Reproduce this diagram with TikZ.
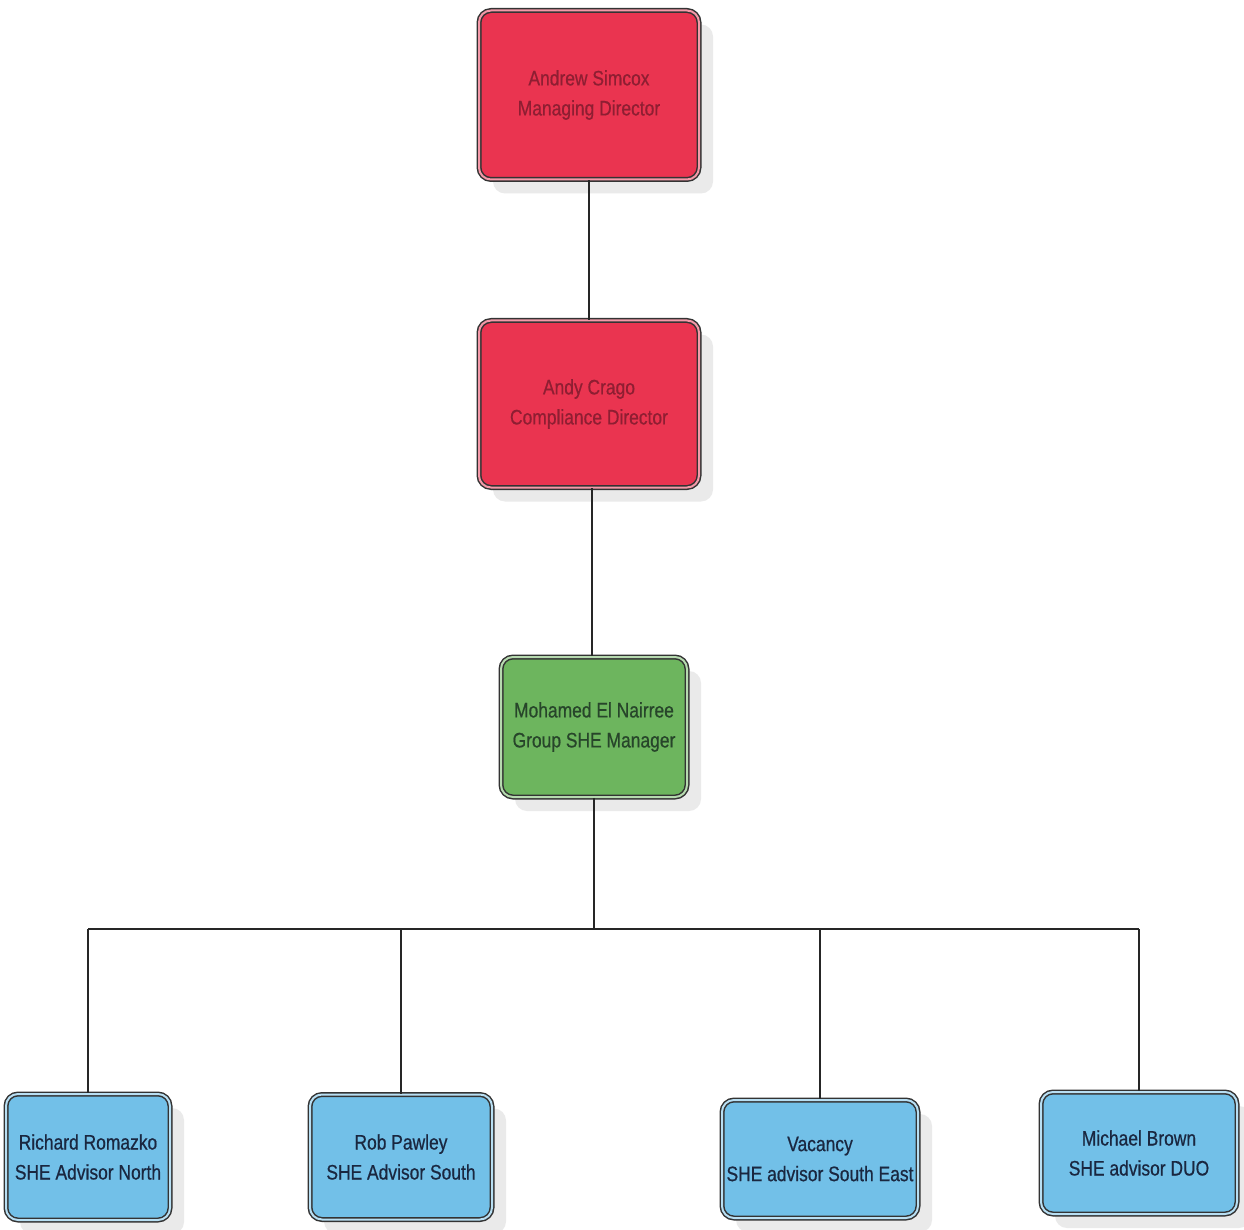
\documentclass[tikz,border=0pt]{standalone}
\usepackage{fontspec}
\setmainfont{Liberation Sans}[FakeStretch=0.83,FakeBold=0.6]
\usetikzlibrary{shadows}
\definecolor{redfill}{HTML}{EA3450}
\definecolor{redtext}{HTML}{8E1E32}
\definecolor{greenfill}{HTML}{6DB55E}
\definecolor{greentext}{HTML}{27452A}
\definecolor{bluefill}{HTML}{72C0E8}
\definecolor{bluetext}{HTML}{1A2740}
\definecolor{edge}{HTML}{333333}
\tikzset{
  box/.style={rounded corners=12pt, draw=edge, line width=1.5pt, double distance=2pt,
    align=center, inner sep=0pt, font=\fontsize{21}{30}\selectfont,
    drop shadow={shadow xshift=14pt, shadow yshift=-14pt, fill=gray!40, opacity=0.4}},
  redbox/.style={box, fill=redfill, double=redfill!50!white, text=redtext},
  greenbox/.style={box, fill=greenfill, double=greenfill!50!white, text=greentext},
  bluebox/.style={box, fill=bluefill, double=bluefill!50!white, text=bluetext},
  link/.style={draw=black!85, line width=2pt}
}
\begin{document}
\begin{tikzpicture}[x=1pt,y=-1pt]
\useasboundingbox[fill=white] (0,0) rectangle (1244,1230);
\node[redbox, minimum width=220pt, minimum height=169pt] (md) at (589,95) {Andrew Simcox\\Managing Director};
\node[redbox, minimum width=220pt, minimum height=167pt] (cd) at (589,404) {Andy Crago\\Compliance Director};
\node[greenbox, minimum width=186pt, minimum height=140pt] (gm) at (594,727) {Mohamed El Nairree\\Group SHE Manager};
\node[bluebox, minimum width=164pt, minimum height=126pt] (b1) at (88,1157) {Richard Romazko\\SHE Advisor North};
\node[bluebox, minimum width=182pt, minimum height=125pt] (b2) at (401,1157) {Rob Pawley\\SHE Advisor South};
\node[bluebox, minimum width=196pt, minimum height=118pt] (b3) at (820,1159) {Vacancy\\SHE advisor South East};
\node[bluebox, minimum width=196pt, minimum height=122pt] (b4) at (1139,1153) {Michael Brown\\SHE advisor DUO};
\coordinate (j) at (594,929);
\draw[link] (md) -- (cd);
\draw[link] (cd.south -| 592,0) -- (gm.north -| 592,0);
\draw[link] (gm) -- (j);
\draw[link] (b1.north |- j) -- (b4.north |- j);
\draw[link] (b1.north |- j) -- (b1.north);
\draw[link] (b2.north |- j) -- (b2.north);
\draw[link] (b3.north |- j) -- (b3.north);
\draw[link] (b4.north |- j) -- (b4.north);
\end{tikzpicture}
\end{document}
